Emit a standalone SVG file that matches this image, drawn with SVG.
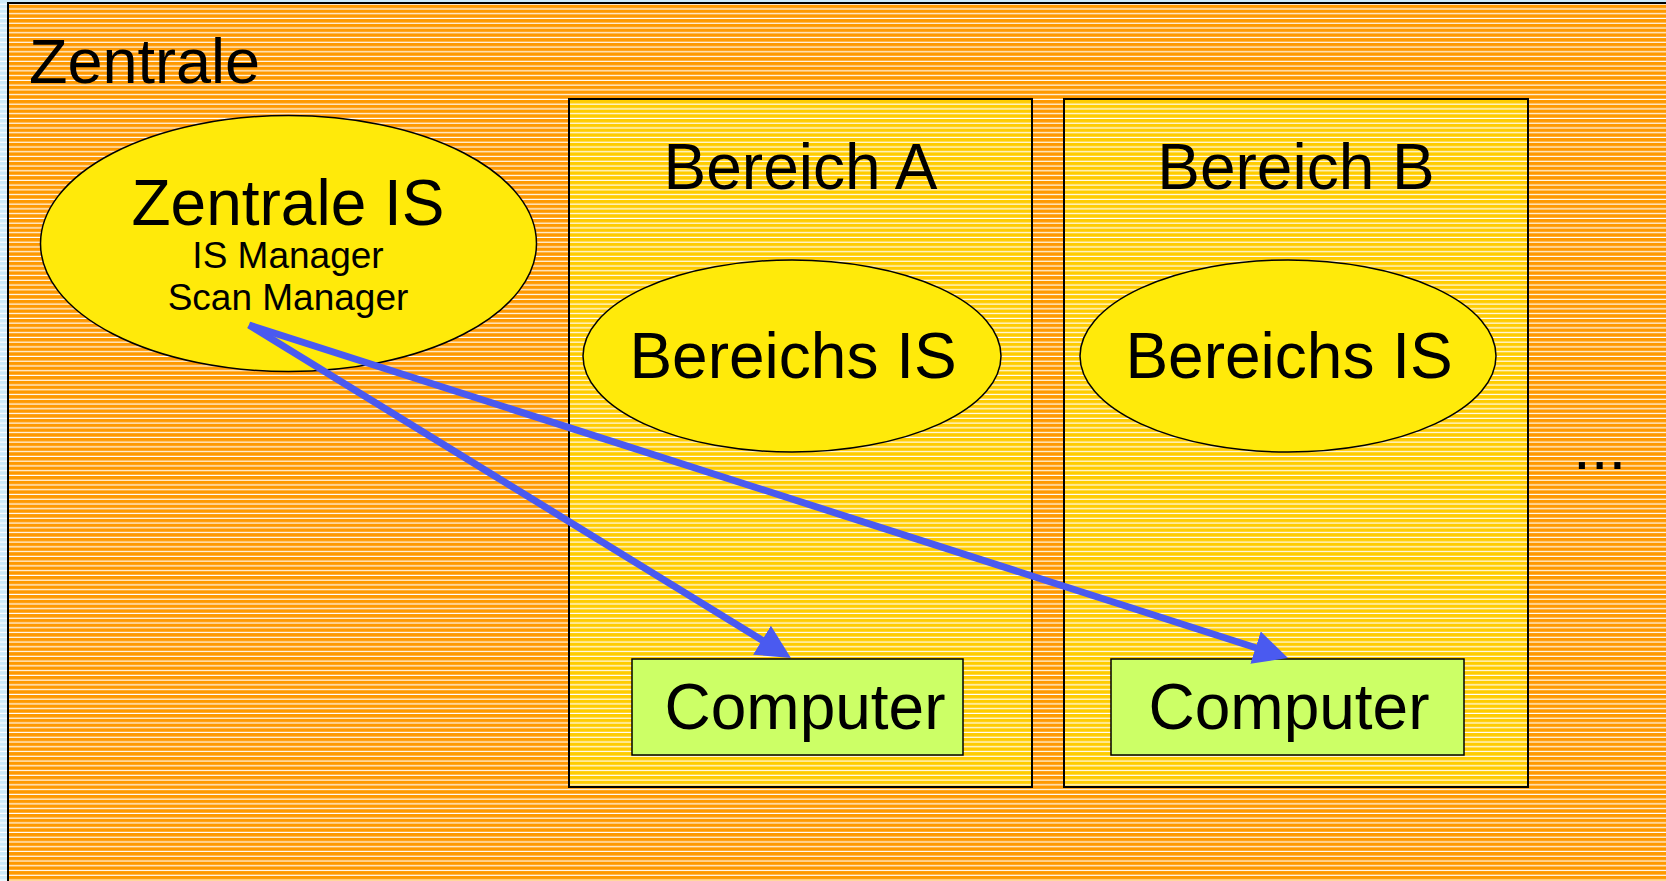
<svg xmlns="http://www.w3.org/2000/svg" width="1666" height="881" viewBox="0 0 1666 881">
  <defs>
    <pattern id="stripeBlue" patternUnits="userSpaceOnUse" width="20" height="4.76">
      <rect width="20" height="4.76" fill="#CDEAF9"/>
      <rect y="3.6" width="20" height="1.16" fill="#FFFFFF"/>
    </pattern>
    <pattern id="stripeOrange" patternUnits="userSpaceOnUse" width="20" height="4.76">
      <rect width="20" height="4.76" fill="#FF9900"/>
      <rect y="3.6" width="20" height="1.16" fill="#FFFFFF"/>
    </pattern>
    <pattern id="stripeGold" patternUnits="userSpaceOnUse" width="20" height="4.76">
      <rect width="20" height="4.76" fill="#FFCC00"/>
      <rect y="3.6" width="20" height="1.16" fill="#FFFFFF"/>
    </pattern>
    <marker id="arrowHead" markerUnits="userSpaceOnUse" markerWidth="34" markerHeight="34" refX="6" refY="17" orient="auto">
      <path d="M0,0 L34,17 L0,34 Z" fill="#4A5AF0"/>
    </marker>
  </defs>
  <style>
    text { font-family: "Liberation Sans", Arial, sans-serif; fill: #000000; }
    .area { fill: url(#stripeGold); stroke: #000000; stroke-width: 2; }
    .is { fill: #FFEA0A; stroke: #000000; stroke-width: 1.5; }
    .pc { fill: #CCFF66; stroke: #000000; stroke-width: 1.5; }
    .big { font-size: 64px; text-anchor: middle; }
    .small { font-size: 37px; text-anchor: middle; }
    .link { fill: none; stroke: #4A5AF0; stroke-width: 7; stroke-linecap: butt; marker-end: url(#arrowHead); }
  </style>

  <!-- page background -->
  <rect x="0" y="0" width="1666" height="881" fill="url(#stripeBlue)"/>

  <!-- headquarters frame -->
  <g id="zentrale">
    <rect x="8" y="3" width="1670" height="890" fill="url(#stripeOrange)" stroke="#000000" stroke-width="2"/>
    <text x="29" y="83" style="font-size:63px">Zentrale</text>
    <text x="1573" y="469" style="font-size:64px">...</text>
  </g>

  <g id="zentrale-is">
    <ellipse class="is" cx="288.5" cy="243.5" rx="248" ry="128"/>
    <text class="big" x="288" y="225">Zentrale IS</text>
    <text class="small" x="288" y="268">IS Manager</text>
    <text class="small" x="288" y="310">Scan Manager</text>
  </g>

  <g id="bereich-a">
    <rect class="area" x="569" y="99" width="463" height="688"/>
    <text class="big" x="800.5" y="189">Bereich A</text>
  </g>

  <g id="bereich-b">
    <rect class="area" x="1064" y="99" width="464" height="688"/>
    <text class="big" x="1296" y="189">Bereich B</text>
  </g>

  <g id="bereichs-is-a">
    <ellipse class="is" cx="792" cy="356" rx="209" ry="96"/>
    <text class="big" x="793" y="378">Bereichs IS</text>
  </g>

  <g id="bereichs-is-b">
    <ellipse class="is" cx="1288" cy="356" rx="208" ry="96"/>
    <text class="big" x="1289" y="378">Bereichs IS</text>
  </g>

  <g id="computer-a">
    <rect class="pc" x="632" y="659" width="331" height="96"/>
    <text class="big" x="805" y="729">Computer</text>
  </g>

  <g id="computer-b">
    <rect class="pc" x="1111" y="659" width="353" height="96"/>
    <text class="big" x="1289" y="729">Computer</text>
  </g>

  <!-- connectors -->
  <g id="connectors">
    <line class="link" x1="249" y1="325" x2="767.1" y2="643.3"/>
    <line class="link" x1="249" y1="325" x2="1261.3" y2="649.5"/>
  </g>
</svg>
